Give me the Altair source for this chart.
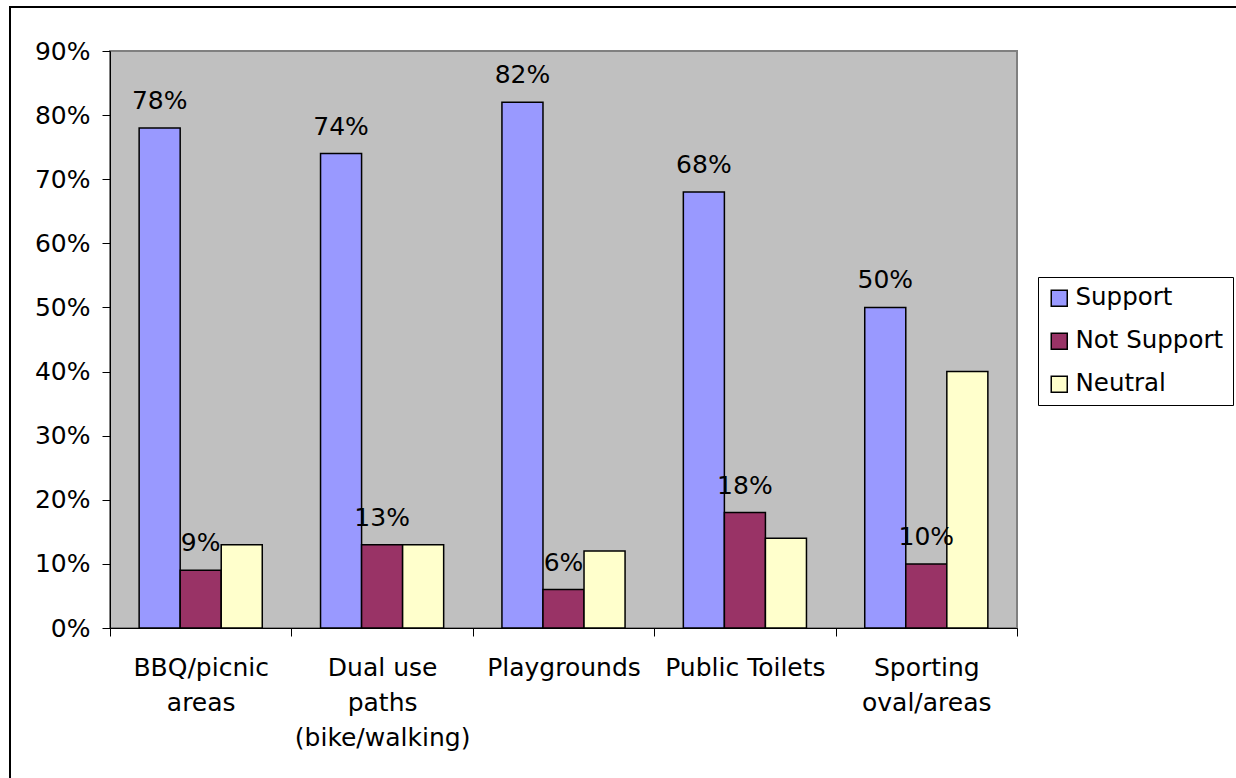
import altair as alt
import pandas as pd

# Survey results: share of respondents per facility and response
facilities = [
    "BBQ/picnic|areas",
    "Dual use|paths|(bike/walking)",
    "Playgrounds",
    "Public Toilets",
    "Sporting|oval/areas",
]
responses = ["Support", "Not Support", "Neutral"]
support = [0.78, 0.74, 0.82, 0.68, 0.50]
not_support = [0.09, 0.13, 0.06, 0.18, 0.10]
neutral = [0.13, 0.13, 0.12, 0.14, 0.40]
colors = ["#9999FF", "#993366", "#FFFFCC"]
labelled = ["Support", "Not Support"]

rows = []
for i, fac in enumerate(facilities):
    for resp, vals in zip(responses, [support, not_support, neutral]):
        rows.append({"facility": fac, "response": resp, "share": vals[i]})
df = pd.DataFrame(rows)

FONT = "DejaVu Sans"
FS = 25
W, H = 907, 577

x_enc = alt.X(
    "facility:N",
    sort=facilities,
    title=None,
    scale=alt.Scale(paddingInner=0, paddingOuter=0),
    axis=alt.Axis(
        labelAngle=0,
        tickBand="extent",
        labelExpr="split(datum.label, '|')",
        labelLineHeight=35,
        labelPadding=19,
        labelFontSize=FS,
        labelFont=FONT,
        labelColor="black",
        tickSize=8,
        tickColor="black",
        domainColor="black",
        labelBaseline="top",
    ),
)
xoff_enc = alt.XOffset(
    "response:N",
    sort=responses,
    scale=alt.Scale(domain=responses, paddingInner=0, paddingOuter=0.71),
)
y_enc = alt.Y(
    "share:Q",
    title=None,
    scale=alt.Scale(domain=[0, 0.9], nice=False),
    axis=alt.Axis(
        values=[i / 10 for i in range(10)],
        format=".0%",
        grid=False,
        labelFontSize=FS,
        labelFont=FONT,
        labelColor="black",
        labelPadding=12,
        tickSize=8,
        tickColor="black",
        domainColor="black",
    ),
)

bars = alt.Chart(df).mark_bar(stroke="black", strokeWidth=1.5).encode(
    x=x_enc,
    xOffset=xoff_enc,
    y=y_enc,
    color=alt.Color(
        "response:N",
        sort=responses,
        scale=alt.Scale(domain=responses, range=colors),
        legend=alt.Legend(
            title=None,
            orient="none",
            legendX=928,
            legendY=226,
            symbolType="square",
            symbolSize=256,
            symbolStrokeColor="black",
            symbolStrokeWidth=1.5,
            labelFontSize=24.5,
            labelFont=FONT,
            labelColor="black",
            labelOffset=4,
            rowPadding=18,
            padding=9,
            strokeColor="black",
            fillColor="white",
            labelLimit=300,
        ),
    ),
)

labels = (
    alt.Chart(df)
    .transform_filter(alt.FieldOneOfPredicate(field="response", oneOf=labelled))
    .mark_text(font=FONT, fontSize=FS, color="black", baseline="alphabetic", dy=-19)
    .encode(x=x_enc, xOffset=xoff_enc, y=y_enc, text=alt.Text("share:Q", format=".0%"))
)

# outer frame around the whole chart
frame = alt.Chart(pd.DataFrame({"k": [0]})).mark_rect(
    fill=None, stroke="black", strokeWidth=2
).encode(
    x=alt.value(-100), x2=alt.value(W + 400), y=alt.value(-44), y2=alt.value(H + 300)
)

chart = (
    alt.layer(frame, bars, labels)
    .properties(
        width=W,
        height=H,
        padding={"left": 110, "top": 51, "right": 219, "bottom": 150},
        autosize=alt.AutoSizeParams(type="none"),
        background="white",
    )
    .configure_view(fill="#C0C0C0", stroke="#808080", strokeWidth=2)
)

chart.save("out.html", embed_options={"renderer": "svg", "actions": False})
